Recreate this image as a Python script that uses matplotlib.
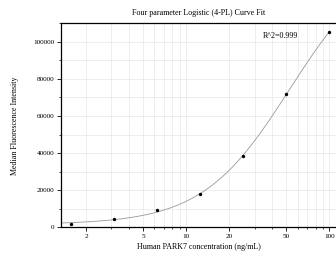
import numpy as np
import matplotlib
matplotlib.use("Agg")
import matplotlib.pyplot as plt
from matplotlib.ticker import LogLocator, MultipleLocator, FixedLocator, NullFormatter

conc = [1.5625, 3.125, 6.25, 12.5, 25, 50, 100]
mfi = [1800, 4300, 9150, 17900, 38500, 72000, 105400]
xticks = [2, 5, 10, 20, 50, 100]
yticks = [0, 20000, 40000, 60000, 80000, 100000]
r2_label = "R^2=0.999"

x = np.array(conc, float)
y = np.array(mfi, float)

def f(p, x):
    a, b, c, d = p
    return d + (a - d) / (1.0 + (x / c) ** b)

# Levenberg-Marquardt fit of 4PL
p = np.array([1500.0, 1.5, 80.0, 250000.0])
lam = 1e-3
def sse(p):
    return np.sum((f(p, x) - y) ** 2)
for _ in range(2000):
    r = y - f(p, x)
    J = np.zeros((len(x), 4))
    for k in range(4):
        dp = np.zeros(4); h = 1e-6 * max(abs(p[k]), 1e-3); dp[k] = h
        J[:, k] = (f(p + dp, x) - f(p - dp, x)) / (2 * h)
    A = J.T @ J
    g = J.T @ r
    step = np.linalg.solve(A + lam * np.diag(np.diag(A)), g)
    pn = p + step
    if pn[2] > 0 and np.isfinite(sse(pn)) and sse(pn) < sse(p):
        p = pn; lam *= 0.5
    else:
        lam *= 5
xs = np.logspace(np.log10(1.34), np.log10(100), 300)

plt.rcParams['font.family'] = ['Liberation Serif', 'DejaVu Serif']
fig = plt.figure(figsize=(3.36, 2.64), dpi=100)
ax = fig.add_axes([61/336, 1 - 227.3/264, (337 - 61)/336, (227.3 - 23.3)/264])
ax.set_xscale('log')
ax.set_xlim(1.336, 113)
ax.set_ylim(0, 110000)
ax.plot(xs, f(p, xs), color='#999999', lw=0.6, zorder=2)
ax.scatter(x, y, s=6, color='black', zorder=3, linewidths=0)
ax.xaxis.set_major_locator(FixedLocator(xticks))
ax.set_xticklabels([str(t) for t in xticks])
ax.xaxis.set_minor_locator(LogLocator(base=10, subs=np.arange(1, 10)))
ax.xaxis.set_minor_formatter(NullFormatter())
ax.yaxis.set_major_locator(FixedLocator(yticks))
ax.yaxis.set_minor_locator(MultipleLocator(10000))
ax.grid(True, which='both', color='#e8e8e8', lw=0.5, zorder=0)
ax.set_axisbelow(True)
ax.tick_params(which='major', length=3, width=0.6, labelsize=5.2, pad=2, direction='out')
ax.tick_params(which='minor', length=1.5, width=0.5, direction='out')
for s in ['left', 'bottom', 'top']:
    ax.spines[s].set_linewidth(0.9)
ax.spines['right'].set_visible(False)
ax.set_title('Four parameter Logistic (4-PL) Curve Fit', fontsize=5.8, pad=6)
ax.set_xlabel('Human PARK7 concentration (ng/mL)', fontsize=5.8, labelpad=2.5)
ax.set_ylabel('Median Fluorescence Intensity', fontsize=5.8, labelpad=10)
ax.text(34, 103000, r2_label, fontsize=5.8, va='center', ha='left')
fig.savefig('out.png', dpi=100)
